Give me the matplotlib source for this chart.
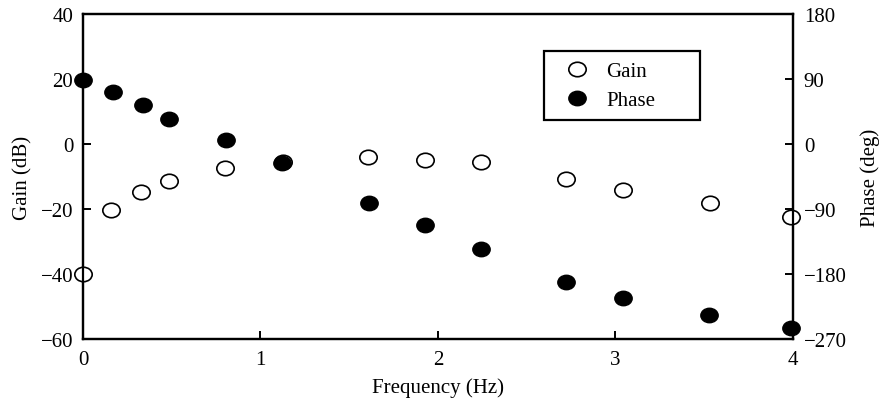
import numpy as np
import matplotlib
matplotlib.use('Agg')
import matplotlib.pyplot as plt
from matplotlib.path import Path
import matplotlib.transforms as mtrans

# values
freq_gain = [0.0, 0.158, 0.327, 0.485, 0.80, 1.127, 1.607, 1.93, 2.246, 2.72, 3.044, 3.532, 3.99]
gain_db = [-40.0, -20.3, -14.8, -11.3, -7.3, -5.5, -3.9, -4.9, -5.6, -10.8, -14.1, -18.2, -22.6]

freq_phase = [0.0, 0.169, 0.336, 0.486, 0.804, 1.123, 1.611, 1.93, 2.246, 2.725, 3.044, 3.527, 3.99]
phase_deg = [88.2, 72.5, 54.5, 34.2, 6.0, -26.3, -82.1, -111.7, -145.4, -190.6, -212.8, -236.8, -255.2]

gain_ticks = [-60, -40, -20, 0, 20, 40]
phase_ticks = [-270, -180, -90, 0, 90, 180]
freq_ticks = [0, 1, 2, 3, 4]

plt.rcParams['font.family'] = ['Liberation Serif', 'DejaVu Serif']
plt.rcParams['font.size'] = 15

# slightly wide ellipse marker like the scanned figure
ell = Path.unit_circle().transformed(mtrans.Affine2D().scale(1.2, 1.0))

fig = plt.figure(figsize=(8.84, 4.02), dpi=100)
ax = fig.add_axes([0.0939, 0.1542, 0.8028, 0.8085])
ax2 = ax.twinx()

h1, = ax.plot(freq_gain, gain_db, linestyle='none', marker=ell, markersize=12.5,
              markerfacecolor='white', markeredgecolor='black', markeredgewidth=1.2,
              label='Gain', clip_on=False, zorder=3)
h2, = ax2.plot(freq_phase, phase_deg, linestyle='none', marker=ell, markersize=12.5,
               markerfacecolor='black', markeredgecolor='black', markeredgewidth=1.0,
               label='Phase', clip_on=False, zorder=3)

ax.set_xlim(0, 4)
ax.set_ylim(-60, 40)
ax2.set_ylim(-270, 180)
ax.set_xticks(freq_ticks)
ax.set_yticks(gain_ticks)
ax2.set_yticks(phase_ticks)

ax.set_xlabel('Frequency (Hz)', labelpad=6)
ax.set_ylabel('Gain (dB)', labelpad=6)
ax2.set_ylabel('Phase (deg)', labelpad=10)

for a in (ax, ax2):
    for s in a.spines.values():
        s.set_linewidth(1.6)
ax.tick_params(axis='x', direction='in', length=6, width=1.4, pad=8)
ax.tick_params(axis='y', direction='in', length=6, width=1.4, pad=7)
ax2.tick_params(axis='y', direction='in', length=6, width=1.4, pad=8)

# legend box stretched to the width it has in the reference
leg = ax2.legend(handles=[h1, h2], loc='upper left', mode='expand',
                 bbox_to_anchor=(0.649, 0.68, 0.22, 0.206),
                 frameon=True, fancybox=False, edgecolor='black', framealpha=1,
                 borderpad=0.5, handletextpad=0.3, labelspacing=0.45, fontsize=15,
                 borderaxespad=0, handlelength=2.2)
leg.get_frame().set_linewidth(1.6)

fig.savefig('out.png', dpi=100)
